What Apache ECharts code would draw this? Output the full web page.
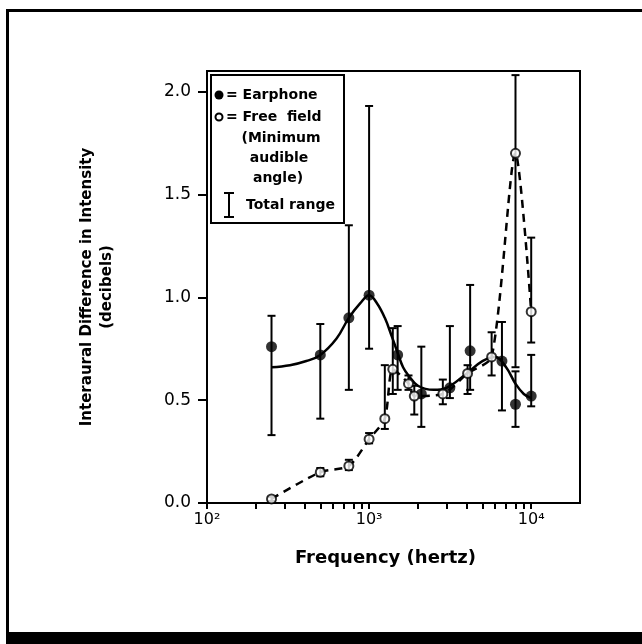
<!DOCTYPE html>
<html>
<head>
<meta charset="utf-8">
<script src="https://cdn.jsdelivr.net/npm/echarts@6/dist/echarts.min.js"></script>
<style>
  html, body { margin: 0; padding: 0; background: #fff; }
  #chart { width: 642px; height: 644px; }
</style>
</head>
<body>
<div id="chart"></div>
<script>
// earphone (filled circles) and its total range
const earFreq = [250, 500, 750, 1000, 1500, 2100, 3150, 4200, 6600, 8000, 10000];
const earVal  = [0.76, 0.72, 0.90, 1.01, 0.72, 0.53, 0.56, 0.74, 0.69, 0.48, 0.52];
const earLow  = [0.33, 0.41, 0.55, 0.75, 0.55, 0.37, 0.51, 0.55, 0.45, 0.37, 0.47];
const earHigh = [0.91, 0.87, 1.35, 1.93, 0.86, 0.76, 0.86, 1.06, 0.88, 0.64, 0.72];

// free field (open circles) and its total range
const freeFreq = [250, 500, 750, 1000, 1250, 1400, 1750, 1900, 2850, 4050, 5700, 8000, 10000];
const freeVal  = [0.02, 0.15, 0.18, 0.31, 0.41, 0.65, 0.58, 0.52, 0.53, 0.63, 0.71, 1.70, 0.93];
const freeLow  = [0.01, 0.13, 0.16, 0.29, 0.36, 0.53, 0.55, 0.43, 0.48, 0.53, 0.62, 0.66, 0.78];
const freeHigh = [0.03, 0.17, 0.21, 0.34, 0.67, 0.85, 0.62, 0.57, 0.60, 0.67, 0.83, 2.08, 1.29];

// solid curve drawn through the earphone data
const fitFreq = [250, 325, 410, 500, 630, 750, 880, 1000, 1120, 1250, 1380, 1500, 1620, 1750, 2000, 2500, 3000, 4000, 5000, 6000, 7000, 8000, 9000, 10000];
const fitVal  = [0.66, 0.67, 0.69, 0.72, 0.80, 0.90, 0.97, 1.01, 0.97, 0.90, 0.81, 0.73, 0.66, 0.62, 0.57, 0.55, 0.56, 0.63, 0.69, 0.71, 0.66, 0.58, 0.53, 0.51];

const yTicks = [0, 0.5, 1.0, 1.5, 2.0];
const xMajor = [100, 1000, 10000];
const xTicks = [100, 200, 300, 400, 500, 600, 700, 800, 900, 1000, 2000, 3000, 4000, 5000, 6000, 7000, 8000, 9000, 10000];
const xLabels = {100: '10²', 1000: '10³', 10000: '10⁴'};

const zip = (a, b) => a.map((v, i) => [v, b[i]]);

function errorBars(api) {
    const f = api.value(0);
    const lo = api.coord([f, api.value(1)]);
    const hi = api.coord([f, api.value(2)]);
    const w = 4;
    const st = { stroke: '#000', lineWidth: 2 };
    return {
        type: 'group',
        children: [
            { type: 'line', shape: { x1: lo[0], y1: lo[1], x2: hi[0], y2: hi[1] }, style: st },
            { type: 'line', shape: { x1: lo[0] - w, y1: lo[1], x2: lo[0] + w, y2: lo[1] }, style: st },
            { type: 'line', shape: { x1: hi[0] - w, y1: hi[1], x2: hi[0] + w, y2: hi[1] }, style: st }
        ]
    };
}

const boldFont = '"DejaVu Sans", sans-serif';
const legFont = '"DejaVu Sans", sans-serif';

const chart = echarts.init(document.getElementById('chart'));
chart.setOption({
    backgroundColor: '#fff',
    animation: false,
    grid: {
        left: 207, right: 62, top: 71, bottom: 141,
        show: true, borderColor: '#000', borderWidth: 2
    },
    xAxis: {
        type: 'log', logBase: 10, min: 100, max: 20000,
        name: 'Frequency (hertz)', nameLocation: 'middle', nameGap: 46,
        nameTextStyle: { fontFamily: boldFont, fontWeight: 'bold', fontSize: 18, color: '#000', padding: [0, 16, 0, 0] },
        axisLine: { lineStyle: { color: '#000', width: 2 } },
        axisTick: { customValues: xTicks, length: 6, lineStyle: { color: '#000', width: 2 } },
        axisLabel: {
            customValues: xMajor, margin: 9,
            fontFamily: 'DejaVu Sans', fontSize: 16, color: '#000',
            formatter: v => xLabels[Math.round(v)] || ''
        },
        splitLine: { show: false }
    },
    yAxis: {
        type: 'value', min: 0, max: 2.1,
        name: 'Interaural Difference in Intensity\n(decibels)',
        nameLocation: 'middle', nameGap: 90, nameRotate: 90,
        nameTextStyle: { fontFamily: boldFont, fontWeight: 'bold', fontSize: 15, color: '#000', lineHeight: 20, align: 'center' },
        axisLine: { lineStyle: { color: '#000', width: 2 } },
        axisTick: { customValues: yTicks, length: 9, lineStyle: { color: '#000', width: 2 } },
        axisLabel: {
            customValues: yTicks, margin: 16,
            fontFamily: 'DejaVu Sans', fontSize: 17, color: '#000',
            formatter: v => v.toFixed(1)
        },
        splitLine: { show: false }
    },
    graphic: [
        // outer frame
        { type: 'rect', shape: { x: 6, y: 9, width: 636, height: 3 }, style: { fill: '#000' } },
        { type: 'rect', shape: { x: 6, y: 9, width: 3, height: 625 }, style: { fill: '#000' } },
        { type: 'rect', shape: { x: 6, y: 632, width: 636, height: 12 }, style: { fill: '#000' } },
        // legend box
        { type: 'rect', z: 10, shape: { x: 211, y: 75, width: 133, height: 148 },
          style: { fill: '#fff', stroke: '#000', lineWidth: 2 } },
        { type: 'circle', z: 11, shape: { cx: 219, cy: 95, r: 4.5 }, style: { fill: '#000' } },
        { type: 'text', z: 11, x: 226, y: 95, style: { text: '= Earphone', fontFamily: legFont, fontWeight: 'bold', fontSize: 14, fill: '#000', verticalAlign: 'middle' } },
        { type: 'circle', z: 11, shape: { cx: 219, cy: 117, r: 3.5 }, style: { fill: '#fff', stroke: '#000', lineWidth: 2 } },
        { type: 'text', z: 11, x: 226, y: 117, style: { text: '= Free  field', fontFamily: legFont, fontWeight: 'bold', fontSize: 14, fill: '#000', verticalAlign: 'middle' } },
        { type: 'text', z: 11, x: 281, y: 138, style: { text: '(Minimum', fontFamily: legFont, fontWeight: 'bold', fontSize: 14, fill: '#000', align: 'center', verticalAlign: 'middle' } },
        { type: 'text', z: 11, x: 279, y: 158, style: { text: 'audible', fontFamily: legFont, fontWeight: 'bold', fontSize: 14, fill: '#000', align: 'center', verticalAlign: 'middle' } },
        { type: 'text', z: 11, x: 278, y: 178, style: { text: 'angle)', fontFamily: legFont, fontWeight: 'bold', fontSize: 14, fill: '#000', align: 'center', verticalAlign: 'middle' } },
        { type: 'line', z: 11, shape: { x1: 229, y1: 193, x2: 229, y2: 217 }, style: { stroke: '#000', lineWidth: 2 } },
        { type: 'line', z: 11, shape: { x1: 224, y1: 193, x2: 234, y2: 193 }, style: { stroke: '#000', lineWidth: 2 } },
        { type: 'line', z: 11, shape: { x1: 224, y1: 217, x2: 234, y2: 217 }, style: { stroke: '#000', lineWidth: 2 } },
        { type: 'text', z: 11, x: 246, y: 205, style: { text: 'Total range', fontFamily: legFont, fontWeight: 'bold', fontSize: 14, fill: '#000', verticalAlign: 'middle' } }
    ],
    series: [{
        name: 'Earphone curve', type: 'line', smooth: 0.4, showSymbol: false,
        data: zip(fitFreq, fitVal),
        lineStyle: { color: '#000', width: 2.5 }, z: 2
    }, {
        name: 'Free field curve', type: 'line', smooth: 0.25, showSymbol: false,
        data: zip(freeFreq, freeVal),
        lineStyle: { color: '#000', width: 2.5, type: [8, 6] }, z: 2
    }, {
        name: 'Earphone range', type: 'custom', renderItem: (p, api) => errorBars(api),
        data: earFreq.map((f, i) => [f, earLow[i], earHigh[i]]), z: 3
    }, {
        name: 'Free field range', type: 'custom', renderItem: (p, api) => errorBars(api),
        data: freeFreq.map((f, i) => [f, freeLow[i], freeHigh[i]]), z: 3
    }, {
        name: 'Earphone', type: 'scatter', symbol: 'circle', symbolSize: 11,
        data: zip(earFreq, earVal),
        itemStyle: { color: '#000' }, z: 5
    }, {
        name: 'Free field', type: 'scatter', symbol: 'circle', symbolSize: 9,
        data: zip(freeFreq, freeVal),
        itemStyle: { color: '#fff', borderColor: '#000', borderWidth: 2 }, z: 6
    }]
});
</script>
</body>
</html>
